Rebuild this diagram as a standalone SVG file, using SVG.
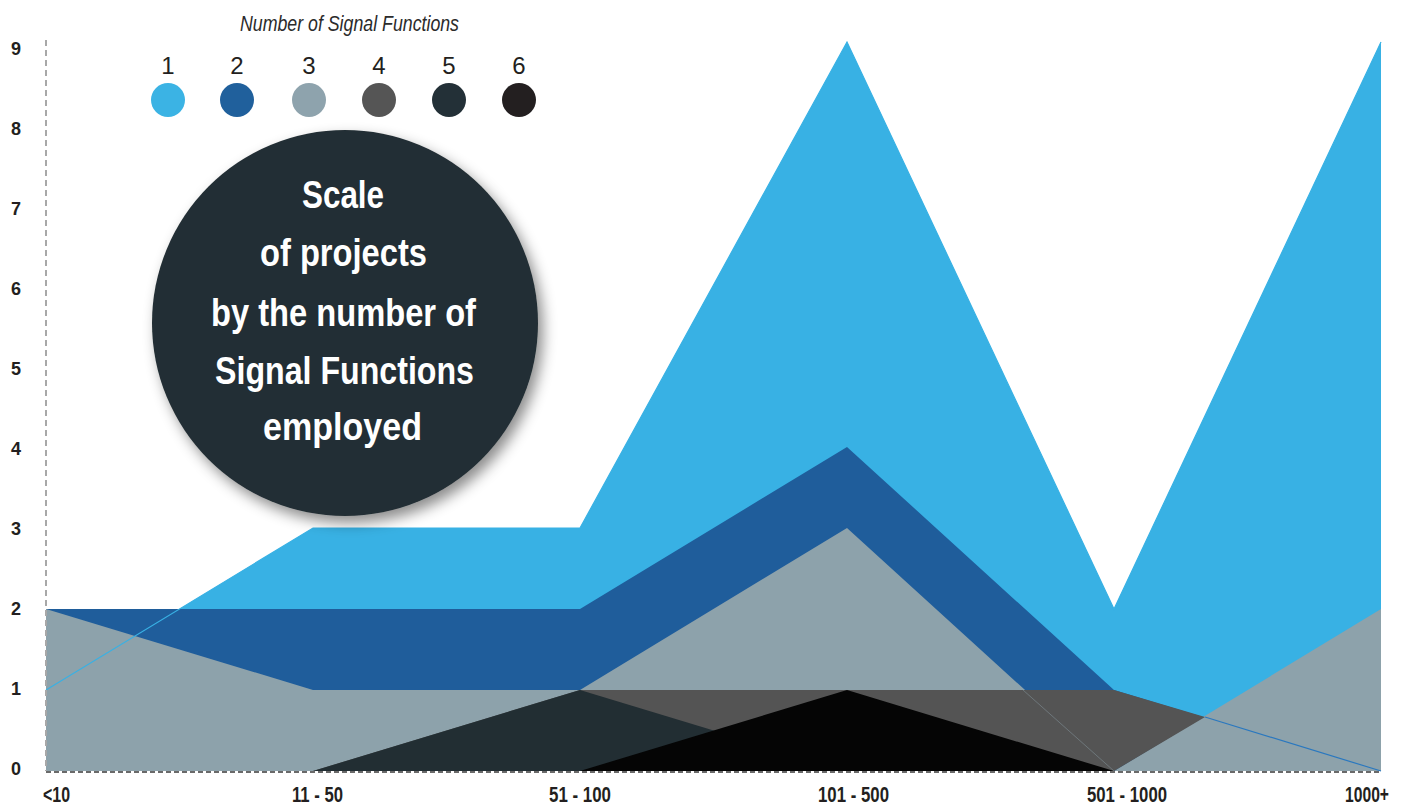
<svg xmlns="http://www.w3.org/2000/svg" width="1405" height="808" viewBox="0 0 1405 808">
<style>
.lbl{font-family:"Liberation Sans",Arial,sans-serif;font-weight:bold;fill:#231f20;}
.ax{font-size:22px;}
.yx{font-size:18px;text-anchor:middle;}
.num{font-family:"Liberation Sans",Arial,sans-serif;font-size:24px;fill:#231f20;text-anchor:middle;}
.title{font-family:"Liberation Sans",Arial,sans-serif;font-style:italic;font-size:22px;fill:#2b2b2b;}
.big{font-family:"Liberation Sans",Arial,sans-serif;font-weight:bold;font-size:39px;fill:#ffffff;}
</style>
<defs>
<filter id="sh" x="-20%" y="-20%" width="150%" height="150%">
<feDropShadow dx="5" dy="7" stdDeviation="7" flood-color="#000" flood-opacity="0.45"/>
</filter>
</defs>
<rect width="1405" height="808" fill="#ffffff"/>
<g id="areas">
<polygon fill="#38b1e4" points="46,690 313,528 580,528 847,42 1114,609 1381,42 1381,771 46,771"/>
<polygon fill="#1f5d9b" points="46,609 313,609 580,609 847,447 1114,690 1381,771 46,771"/>
<polygon fill="#8da2ab" points="46,609 313,690 580,690 847,528 1114,771 1381,609 1381,771 46,771"/>
<polygon fill="#545454" points="46,771 313,771 580,690 847,690 1114,690 1205,717 1114,771"/>
<polygon fill="#222e33" points="313,771 580,690 847,771"/>
<polygon fill="#050505" points="580,771 847,690 1114,771"/>
<polyline fill="none" stroke="#38b1e4" stroke-width="1.2" points="46,690 313,528 580,528 847,42 1114,609 1381,42"/>
<polyline fill="none" stroke="#2a78bf" stroke-width="1.2" points="1205,717 1381,771"/>
<polyline fill="none" stroke="#8da2ab" stroke-width="1" opacity="0.45" points="1023,690 1114,771"/>
</g>
<g id="axes">
<line x1="46" y1="40" x2="46" y2="771" stroke="#a8a8a8" stroke-width="2" stroke-dasharray="6 4"/>
<line x1="46" y1="772" x2="1381" y2="772" stroke="#6a6a6a" stroke-width="2" stroke-dasharray="5 3"/>
</g>
<g id="y-labels" class="lbl yx">
<text x="16" y="55">9</text>
<text x="16" y="135">8</text>
<text x="16" y="215">7</text>
<text x="16" y="295">6</text>
<text x="16" y="375">5</text>
<text x="16" y="455">4</text>
<text x="16" y="535">3</text>
<text x="16" y="615">2</text>
<text x="16" y="695">1</text>
<text x="16" y="775">0</text>
</g>
<g id="x-labels" class="lbl ax">
<text x="43" y="802" textLength="27" lengthAdjust="spacingAndGlyphs">&lt;10</text>
<text x="292" y="802" textLength="51" lengthAdjust="spacingAndGlyphs">11 - 50</text>
<text x="549" y="802" textLength="62" lengthAdjust="spacingAndGlyphs">51 - 100</text>
<text x="818" y="802" textLength="71" lengthAdjust="spacingAndGlyphs">101 - 500</text>
<text x="1087" y="802" textLength="80" lengthAdjust="spacingAndGlyphs">501 - 1000</text>
<text x="1345" y="802" textLength="44" lengthAdjust="spacingAndGlyphs">1000+</text>
</g>
<g id="legend">
<text class="title" x="240" y="31" textLength="219" lengthAdjust="spacingAndGlyphs">Number of Signal Functions</text>
<text class="num" x="168" y="74">1</text>
<text class="num" x="237" y="74">2</text>
<text class="num" x="309" y="74">3</text>
<text class="num" x="379" y="74">4</text>
<text class="num" x="449" y="74">5</text>
<text class="num" x="519" y="74">6</text>
<circle cx="168" cy="100" r="17" fill="#3bb3e4"/>
<circle cx="237" cy="100" r="17" fill="#20609c"/>
<circle cx="309" cy="100" r="17" fill="#8ea3ad"/>
<circle cx="379" cy="100" r="17" fill="#555555"/>
<circle cx="449" cy="100" r="17" fill="#233037"/>
<circle cx="519" cy="100" r="17" fill="#231f20"/>
</g>
<g id="title-circle">
<circle cx="345" cy="323" r="193" fill="#232e34" filter="url(#sh)"/>
<text class="big" x="302" y="208" textLength="82" lengthAdjust="spacingAndGlyphs">Scale</text>
<text class="big" x="260" y="266" textLength="167" lengthAdjust="spacingAndGlyphs">of projects</text>
<text class="big" x="211" y="326" textLength="265" lengthAdjust="spacingAndGlyphs">by the number of</text>
<text class="big" x="215" y="384" textLength="259" lengthAdjust="spacingAndGlyphs">Signal Functions</text>
<text class="big" x="263" y="440" textLength="159" lengthAdjust="spacingAndGlyphs">employed</text>
</g>
</svg>
